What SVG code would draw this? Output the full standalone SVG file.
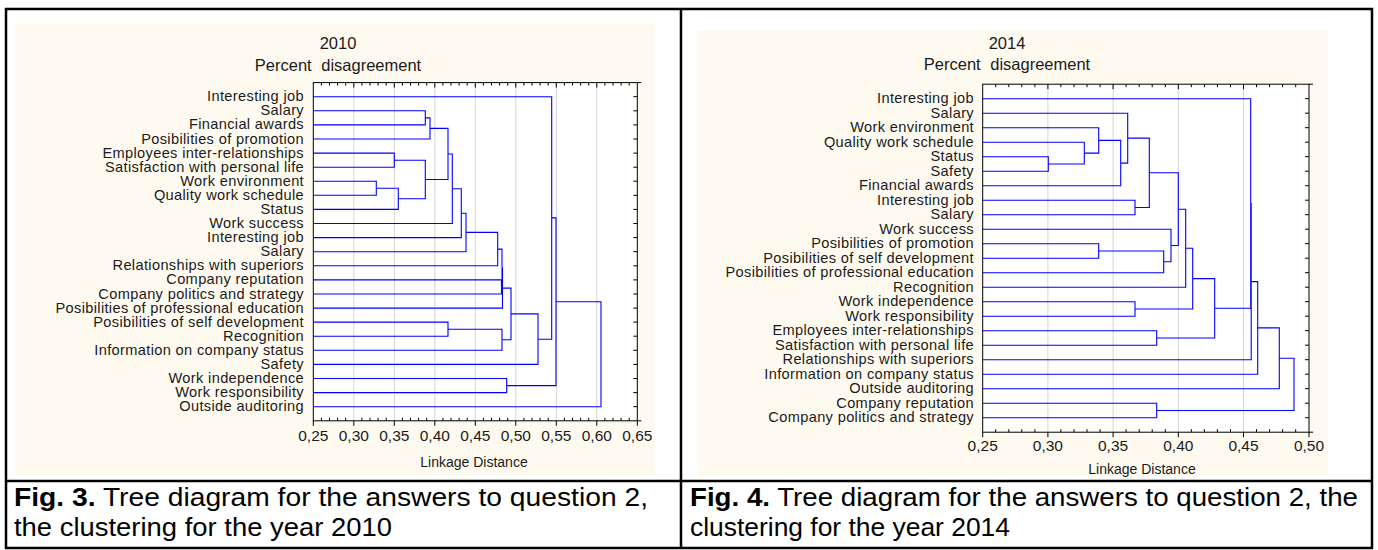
<svg xmlns="http://www.w3.org/2000/svg" width="1378" height="550" viewBox="0 0 1378 550">
<style>
.bg{fill:#fffaf0}
.plot{fill:#ffffff}
.frame{fill:none;stroke:#000;stroke-width:1}
.grid{stroke:#d4d4d4;stroke-width:1}
.tick{stroke:#000;stroke-width:1}
.tree{fill:none;stroke:#0000ff;stroke-width:1.1}
.lab{font-family:"Liberation Sans",Arial,sans-serif;font-size:14.6px;letter-spacing:0.35px;fill:#1a1a1a;text-anchor:end}
.title{font-family:"Liberation Sans",Arial,sans-serif;font-size:16.5px;word-spacing:5px;fill:#1a1a1a;text-anchor:middle}
.tl{font-family:"Liberation Sans",Arial,sans-serif;font-size:15.5px;fill:#1a1a1a;text-anchor:middle}
.xt{font-family:"Liberation Sans",Arial,sans-serif;font-size:14px;fill:#1a1a1a;text-anchor:middle}
.cap{font-family:"Liberation Sans",Arial,sans-serif;font-size:25px;fill:#000}
.table{fill:none;stroke:#000;stroke-width:2.5}
</style>
<rect x="0" y="0" width="1378" height="550" fill="#ffffff"/>
<g id="panel-2010">
<rect class="bg" x="15" y="24" width="640" height="452"/>
<rect class="plot" x="313.3" y="82.6" width="324" height="338.2"/>
<g id="grid-2010">
<line class="grid" x1="353.8" y1="82.6" x2="353.8" y2="420.8"/>
<line class="grid" x1="394.3" y1="82.6" x2="394.3" y2="420.8"/>
<line class="grid" x1="434.8" y1="82.6" x2="434.8" y2="420.8"/>
<line class="grid" x1="475.3" y1="82.6" x2="475.3" y2="420.8"/>
<line class="grid" x1="515.8" y1="82.6" x2="515.8" y2="420.8"/>
<line class="grid" x1="556.3" y1="82.6" x2="556.3" y2="420.8"/>
<line class="grid" x1="596.8" y1="82.6" x2="596.8" y2="420.8"/>
</g>
<rect class="frame" x="313.3" y="82.6" width="324" height="338.2"/>
<path class="tick" d="M321.4 82.6v3M329.5 82.6v3M337.6 82.6v3M345.7 82.6v3M353.8 82.6v5M361.9 82.6v3M370 82.6v3M378.1 82.6v3M386.2 82.6v3M394.3 82.6v5M402.4 82.6v3M410.5 82.6v3M418.6 82.6v3M426.7 82.6v3M434.8 82.6v5M442.9 82.6v3M451 82.6v3M459.1 82.6v3M467.2 82.6v3M475.3 82.6v5M483.4 82.6v3M491.5 82.6v3M499.6 82.6v3M507.7 82.6v3M515.8 82.6v5M523.9 82.6v3M532 82.6v3M540.1 82.6v3M548.2 82.6v3M556.3 82.6v5M564.4 82.6v3M572.5 82.6v3M580.6 82.6v3M588.7 82.6v3M596.8 82.6v5M604.9 82.6v3M613 82.6v3M621.1 82.6v3M629.2 82.6v3"/>
<path class="tick" d="M313.3 420.8v5M321.4 420.8v-3M329.5 420.8v-3M337.6 420.8v-3M345.7 420.8v-3M353.8 420.8v5M361.9 420.8v-3M370 420.8v-3M378.1 420.8v-3M386.2 420.8v-3M394.3 420.8v5M402.4 420.8v-3M410.5 420.8v-3M418.6 420.8v-3M426.7 420.8v-3M434.8 420.8v5M442.9 420.8v-3M451 420.8v-3M459.1 420.8v-3M467.2 420.8v-3M475.3 420.8v5M483.4 420.8v-3M491.5 420.8v-3M499.6 420.8v-3M507.7 420.8v-3M515.8 420.8v5M523.9 420.8v-3M532 420.8v-3M540.1 420.8v-3M548.2 420.8v-3M556.3 420.8v5M564.4 420.8v-3M572.5 420.8v-3M580.6 420.8v-3M588.7 420.8v-3M596.8 420.8v5M604.9 420.8v-3M613 420.8v-3M621.1 420.8v-3M629.2 420.8v-3M637.3 420.8v5"/>
<path class="tick" d="M637.3 96.7h-4M637.3 110.8h-4M637.3 124.9h-4M637.3 139h-4M637.3 153.1h-4M637.3 167.2h-4M637.3 181.2h-4M637.3 195.3h-4M637.3 209.4h-4M637.3 223.5h-4M637.3 237.6h-4M637.3 251.7h-4M637.3 265.8h-4M637.3 279.9h-4M637.3 294h-4M637.3 308.1h-4M637.3 322.1h-4M637.3 336.2h-4M637.3 350.3h-4M637.3 364.4h-4M637.3 378.5h-4M637.3 392.6h-4M637.3 406.7h-4M637.3 82.6h4M637.3 420.8h4"/>
<text class="title" x="338" y="49">2010</text>
<text class="title" x="338" y="71">Percent disagreement</text>
<g id="labels-2010">
<text class="lab" x="304" y="101.2">Interesting job</text>
<text class="lab" x="304" y="115.3">Salary</text>
<text class="lab" x="304" y="129.4">Financial awards</text>
<text class="lab" x="304" y="143.5">Posibilities of promotion</text>
<text class="lab" x="304" y="157.6">Employees inter-relationships</text>
<text class="lab" x="304" y="171.7">Satisfaction with personal life</text>
<text class="lab" x="304" y="185.7">Work environment</text>
<text class="lab" x="304" y="199.8">Quality work schedule</text>
<text class="lab" x="304" y="213.9">Status</text>
<text class="lab" x="304" y="228">Work success</text>
<text class="lab" x="304" y="242.1">Interesting job</text>
<text class="lab" x="304" y="256.2">Salary</text>
<text class="lab" x="304" y="270.3">Relationships with superiors</text>
<text class="lab" x="304" y="284.4">Company reputation</text>
<text class="lab" x="304" y="298.5">Company politics and strategy</text>
<text class="lab" x="304" y="312.6">Posibilities of professional education</text>
<text class="lab" x="304" y="326.6">Posibilities of self development</text>
<text class="lab" x="304" y="340.7">Recognition</text>
<text class="lab" x="304" y="354.8">Information on company status</text>
<text class="lab" x="304" y="368.9">Safety</text>
<text class="lab" x="304" y="383">Work independence</text>
<text class="lab" x="304" y="397.1">Work responsibility</text>
<text class="lab" x="304" y="411.2">Outside auditoring</text>
</g>
<g id="xticks-2010">
<text class="tl" x="313.3" y="440.5">0,25</text>
<text class="tl" x="353.8" y="440.5">0,30</text>
<text class="tl" x="394.3" y="440.5">0,35</text>
<text class="tl" x="434.8" y="440.5">0,40</text>
<text class="tl" x="475.3" y="440.5">0,45</text>
<text class="tl" x="515.8" y="440.5">0,50</text>
<text class="tl" x="556.3" y="440.5">0,55</text>
<text class="tl" x="596.8" y="440.5">0,60</text>
<text class="tl" x="637.3" y="440.5">0,65</text>
</g>
<text class="xt" x="474" y="467">Linkage Distance</text>
</g>
<g id="panel-2014">
<rect class="bg" x="698" y="30" width="630" height="446"/>
<rect class="plot" x="982.7" y="84.2" width="326.3" height="348"/>
<g id="grid-2014">
<line class="grid" x1="1047.9" y1="84.2" x2="1047.9" y2="432.2"/>
<line class="grid" x1="1113.1" y1="84.2" x2="1113.1" y2="432.2"/>
<line class="grid" x1="1178.3" y1="84.2" x2="1178.3" y2="432.2"/>
<line class="grid" x1="1243.5" y1="84.2" x2="1243.5" y2="432.2"/>
</g>
<rect class="frame" x="982.7" y="84.2" width="326.3" height="348"/>
<path class="tick" d="M995.7 84.2v3M1008.8 84.2v3M1021.8 84.2v3M1034.9 84.2v3M1047.9 84.2v5M1060.9 84.2v3M1074 84.2v3M1087 84.2v3M1100.1 84.2v3M1113.1 84.2v5M1126.1 84.2v3M1139.2 84.2v3M1152.2 84.2v3M1165.3 84.2v3M1178.3 84.2v5M1191.3 84.2v3M1204.4 84.2v3M1217.4 84.2v3M1230.5 84.2v3M1243.5 84.2v5M1256.5 84.2v3M1269.6 84.2v3M1282.6 84.2v3M1295.7 84.2v3"/>
<path class="tick" d="M982.7 432.2v5M995.7 432.2v-3M1008.8 432.2v-3M1021.8 432.2v-3M1034.9 432.2v-3M1047.9 432.2v5M1060.9 432.2v-3M1074 432.2v-3M1087 432.2v-3M1100.1 432.2v-3M1113.1 432.2v5M1126.1 432.2v-3M1139.2 432.2v-3M1152.2 432.2v-3M1165.3 432.2v-3M1178.3 432.2v5M1191.3 432.2v-3M1204.4 432.2v-3M1217.4 432.2v-3M1230.5 432.2v-3M1243.5 432.2v5M1256.5 432.2v-3M1269.6 432.2v-3M1282.6 432.2v-3M1295.7 432.2v-3M1309 432.2v5"/>
<path class="tick" d="M1309 98.7h-4M1309 113.2h-4M1309 127.7h-4M1309 142.2h-4M1309 156.7h-4M1309 171.2h-4M1309 185.7h-4M1309 200.2h-4M1309 214.7h-4M1309 229.2h-4M1309 243.7h-4M1309 258.2h-4M1309 272.7h-4M1309 287.2h-4M1309 301.7h-4M1309 316.2h-4M1309 330.7h-4M1309 345.2h-4M1309 359.7h-4M1309 374.2h-4M1309 388.7h-4M1309 403.2h-4M1309 417.7h-4M1309 84.2h4M1309 432.2h4"/>
<text class="title" x="1007" y="49">2014</text>
<text class="title" x="1007" y="70">Percent disagreement</text>
<g id="labels-2014">
<text class="lab" x="974" y="103.3">Interesting job</text>
<text class="lab" x="974" y="117.8">Salary</text>
<text class="lab" x="974" y="132.3">Work environment</text>
<text class="lab" x="974" y="146.8">Quality work schedule</text>
<text class="lab" x="974" y="161.3">Status</text>
<text class="lab" x="974" y="175.8">Safety</text>
<text class="lab" x="974" y="190.3">Financial awards</text>
<text class="lab" x="974" y="204.8">Interesting job</text>
<text class="lab" x="974" y="219.3">Salary</text>
<text class="lab" x="974" y="233.8">Work success</text>
<text class="lab" x="974" y="248.3">Posibilities of promotion</text>
<text class="lab" x="974" y="262.8">Posibilities of self development</text>
<text class="lab" x="974" y="277.3">Posibilities of professional education</text>
<text class="lab" x="974" y="291.8">Recognition</text>
<text class="lab" x="974" y="306.3">Work independence</text>
<text class="lab" x="974" y="320.8">Work responsibility</text>
<text class="lab" x="974" y="335.3">Employees inter-relationships</text>
<text class="lab" x="974" y="349.8">Satisfaction with personal life</text>
<text class="lab" x="974" y="364.3">Relationships with superiors</text>
<text class="lab" x="974" y="378.8">Information on company status</text>
<text class="lab" x="974" y="393.3">Outside auditoring</text>
<text class="lab" x="974" y="407.8">Company reputation</text>
<text class="lab" x="974" y="422.3">Company politics and strategy</text>
</g>
<g id="xticks-2014">
<text class="tl" x="982.7" y="451">0,25</text>
<text class="tl" x="1047.9" y="451">0,30</text>
<text class="tl" x="1113.1" y="451">0,35</text>
<text class="tl" x="1178.3" y="451">0,40</text>
<text class="tl" x="1243.5" y="451">0,45</text>
<text class="tl" x="1309" y="451">0,50</text>
</g>
<text class="xt" x="1142" y="474">Linkage Distance</text>
</g>
<g id="connectors">
<path id="tree-2010" class="tree" d="M313.3 110.8H425.3V124.9H313.3 M425.3 117.9H430V139H313.3 M313.3 153.1H394.3V167.2H313.3 M313.3 181.2H376.3V195.3H313.3 M376.3 188.3H398.3V209.4H313.3 M394.3 160.2H425.3V198.8H398.3 M430 128.4H448V179.5H425.3 M448 154H452.3V223.5H313.3 M452.3 188.7H461.3V237.6H313.3 M461.3 213.2H466V251.7H313.3 M466 232.4H497.7V265.8H313.3 M313.3 279.9H501.5V294H313.3 M497.7 249.1H502V287H501.5 M502 268H502.5V308.1H313.3 M313.3 322.1H448V336.2H313.3 M448 329.2H502V350.3H313.3 M502.5 288.1H511V339.7H502 M511 313.9H538V364.4H313.3 M313.3 96.7H551.7V339.2H538 M313.3 378.5H506.7V392.6H313.3 M551.7 217.9H556V385.6H506.7 M556 301.7H601V406.7H313.3"/>
<path id="tree-2014" class="tree" d="M982.7 156.7H1048.3V171.2H982.7 M982.7 142.2H1084.3V164H1048.3 M982.7 127.7H1098.7V153.1H1084.3 M1098.7 140.4H1120.7V185.7H982.7 M982.7 113.2H1127.7V163.1H1120.7 M982.7 200.2H1135V214.7H982.7 M1127.7 138.1H1149.3V207.5H1135 M982.7 243.7H1098.7V258.2H982.7 M1098.7 251H1163.7V272.7H982.7 M982.7 229.2H1171V261.8H1163.7 M1149.3 172.8H1178.3V245.5H1171 M1178.3 209.2H1185.7V287.2H982.7 M982.7 301.7H1135V316.2H982.7 M1185.7 248.2H1192.7V309H1135 M982.7 330.7H1156.7V345.2H982.7 M1192.7 278.6H1214.7V338H1156.7 M982.7 98.7H1250.7V308.3H1214.7 M1250.7 203.5H1251.2V359.7H982.7 M1251.2 281.6H1257.7V374.2H982.7 M1257.7 327.9H1279.3V388.7H982.7 M982.7 403.2H1156.7V417.7H982.7 M1279.3 358.3H1294V410.5H1156.7"/>
</g>
<g id="table">
<rect class="table" x="6" y="9" width="1366" height="539"/>
<line class="table" x1="681" y1="9" x2="681" y2="548"/>
<line class="table" x1="6" y1="481" x2="1372" y2="481"/>
</g>
<g id="captions">
<text class="cap" x="14" y="506" textLength="634" lengthAdjust="spacingAndGlyphs"><tspan font-weight="bold">Fig. 3.</tspan> Tree diagram for the answers to question 2,</text>
<text class="cap" x="14" y="536" textLength="378" lengthAdjust="spacingAndGlyphs">the clustering for the year 2010</text>
<text class="cap" x="690" y="506" textLength="668" lengthAdjust="spacingAndGlyphs"><tspan font-weight="bold">Fig. 4.</tspan> Tree diagram for the answers to question 2, the</text>
<text class="cap" x="690" y="536" textLength="320" lengthAdjust="spacingAndGlyphs">clustering for the year 2014</text>
</g>
</svg>
